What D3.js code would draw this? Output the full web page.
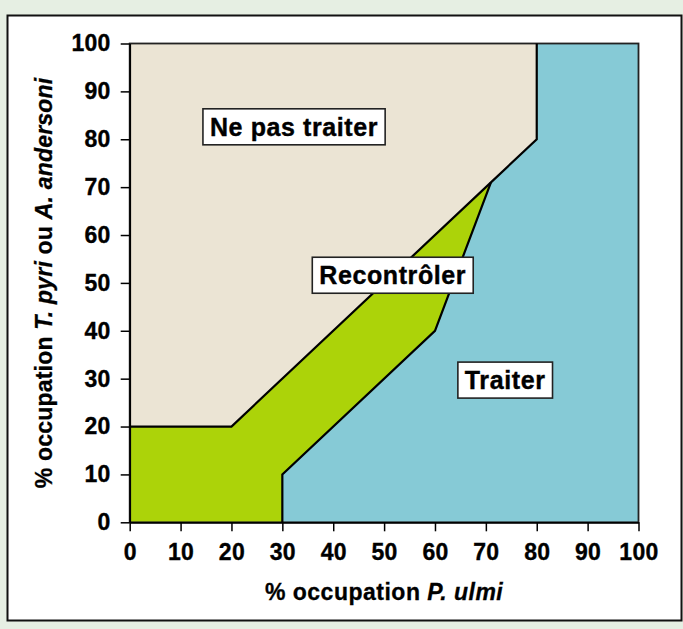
<!DOCTYPE html>
<html>
<head>
<meta charset="utf-8">
<script src="https://cdn.jsdelivr.net/npm/d3@7"></script>
<style>
  html, body { margin: 0; padding: 0; background: #e6efe3; }
  svg { display: block; }
  text { font-family: "Liberation Sans", Arial, Helvetica, sans-serif; font-weight: bold; fill: #000; }
</style>
</head>
<body>
<svg id="chart" width="683" height="629"></svg>
<script>
// ---- Data ----
const xTicks = [0, 10, 20, 30, 40, 50, 60, 70, 80, 90, 100];
const yTicks = [0, 10, 20, 30, 40, 50, 60, 70, 80, 90, 100];

// region polygons (x = % P. ulmi, y = % T. pyri ou A. andersoni)
const zoneNePasTraiter = [[0,20],[20,20],[71,71],[80,80],[80,100],[0,100]];
const zoneRecontroler  = [[0,0],[30,0],[30,10],[60,40],[71,71],[20,20],[0,20]];
const zoneTraiter      = [[30,0],[100,0],[100,100],[80,100],[80,80],[71,71],[60,40],[30,10]];

// boundary lines
const limitHaute = [[0,20],[20,20],[71,71],[80,80],[80,100]];
const limitBasse = [[30,0],[30,10],[60,40],[71,71]];

// zone labels [text, x, y]
const zoneLabels = [
  ["Ne pas traiter", 32.3, 82.6],
  ["Recontrôler", 51.7, 51.6],
  ["Traiter", 73.8, 29.7]
];

// ---- Drawing ----
const svg = d3.select("#chart");

svg.append("rect")
  .attr("x", 7.5).attr("y", 15.5).attr("width", 674).attr("height", 605)
  .attr("fill", "#ffffff").attr("stroke", "#111").attr("stroke-width", 2);

const x = d3.scaleLinear().domain([0, 100]).range([129.7, 638.5]);
const y = d3.scaleLinear().domain([0, 100]).range([522.3, 43.5]);

const line = d3.line().x(d => x(d[0])).y(d => y(d[1]));

svg.append("path").attr("d", line(zoneNePasTraiter) + "Z").attr("fill", "#ebe4d4");
svg.append("path").attr("d", line(zoneRecontroler) + "Z").attr("fill", "#acd309");
svg.append("path").attr("d", line(zoneTraiter) + "Z").attr("fill", "#86cad6");

// frame
svg.append("rect")
  .attr("x", x(0)).attr("y", y(100))
  .attr("width", x(100) - x(0)).attr("height", y(0) - y(100))
  .attr("fill", "none").attr("stroke", "#222").attr("stroke-width", 1.8);

[limitHaute, limitBasse].forEach(l => {
  svg.append("path").attr("d", line(l))
    .attr("fill", "none").attr("stroke", "#000").attr("stroke-width", 2.2)
    .attr("stroke-linejoin", "miter");
});

// axes
const xAxis = svg.append("g")
  .attr("transform", `translate(0,${y(0)})`)
  .call(d3.axisBottom(x).tickValues(xTicks).tickSize(9).tickPadding(12).tickSizeOuter(0));
const yAxis = svg.append("g")
  .attr("transform", `translate(${x(0)},0)`)
  .call(d3.axisLeft(y).tickValues(yTicks).tickSize(9).tickPadding(10).tickSizeOuter(0));

[xAxis, yAxis].forEach(a => {
  a.select(".domain").attr("stroke", "#000").attr("stroke-width", 1.8);
  a.selectAll(".tick line").attr("stroke", "#000").attr("stroke-width", 1.5);
  a.selectAll(".tick text")
    .style("font-family", "'Liberation Sans', Arial, sans-serif")
    .style("font-weight", "bold")
    .style("font-size", "23px")
    .style("letter-spacing", "0.3px")
    .attr("fill", "#000")
    .attr("stroke", "#000").attr("stroke-width", 0.35);
});

// axis titles
const xt = svg.append("text")
  .attr("x", (x(0) + x(100)) / 2).attr("y", 600)
  .attr("text-anchor", "middle")
  .attr("stroke", "#000").attr("stroke-width", 0.3)
  .style("font-size", "23px").style("letter-spacing", "0.5px");
xt.append("tspan").text("% occupation ");
xt.append("tspan").attr("font-style", "italic").text("P.  ulmi");

const yt = svg.append("text")
  .attr("transform", `translate(52,${(y(0) + y(100)) / 2}) rotate(-90)`)
  .attr("text-anchor", "middle")
  .attr("stroke", "#000").attr("stroke-width", 0.3)
  .style("font-size", "23px").style("letter-spacing", "0.2px");
yt.append("tspan").text("% occupation ");
yt.append("tspan").attr("font-style", "italic").text("T. pyri");
yt.append("tspan").text(" ou ");
yt.append("tspan").attr("font-style", "italic").text("A. andersoni");

// zone labels with boxes
zoneLabels.forEach(([t, lx, ly]) => {
  const g = svg.append("g");
  const txt = g.append("text")
    .attr("x", x(lx)).attr("y", y(ly))
    .attr("text-anchor", "middle").attr("dominant-baseline", "central")
    .attr("stroke", "#000").attr("stroke-width", 0.4)
    .style("font-size", "25px").style("letter-spacing", "0.6px")
    .text(t);
  const bb = txt.node().getBBox();
  const w = bb.width + 14, h = 36;
  g.insert("rect", "text")
    .attr("x", x(lx) - w / 2).attr("y", y(ly) - h / 2)
    .attr("width", w).attr("height", h)
    .attr("fill", "#fff").attr("stroke", "#222").attr("stroke-width", 1.6);
});
</script>
</body>
</html>
